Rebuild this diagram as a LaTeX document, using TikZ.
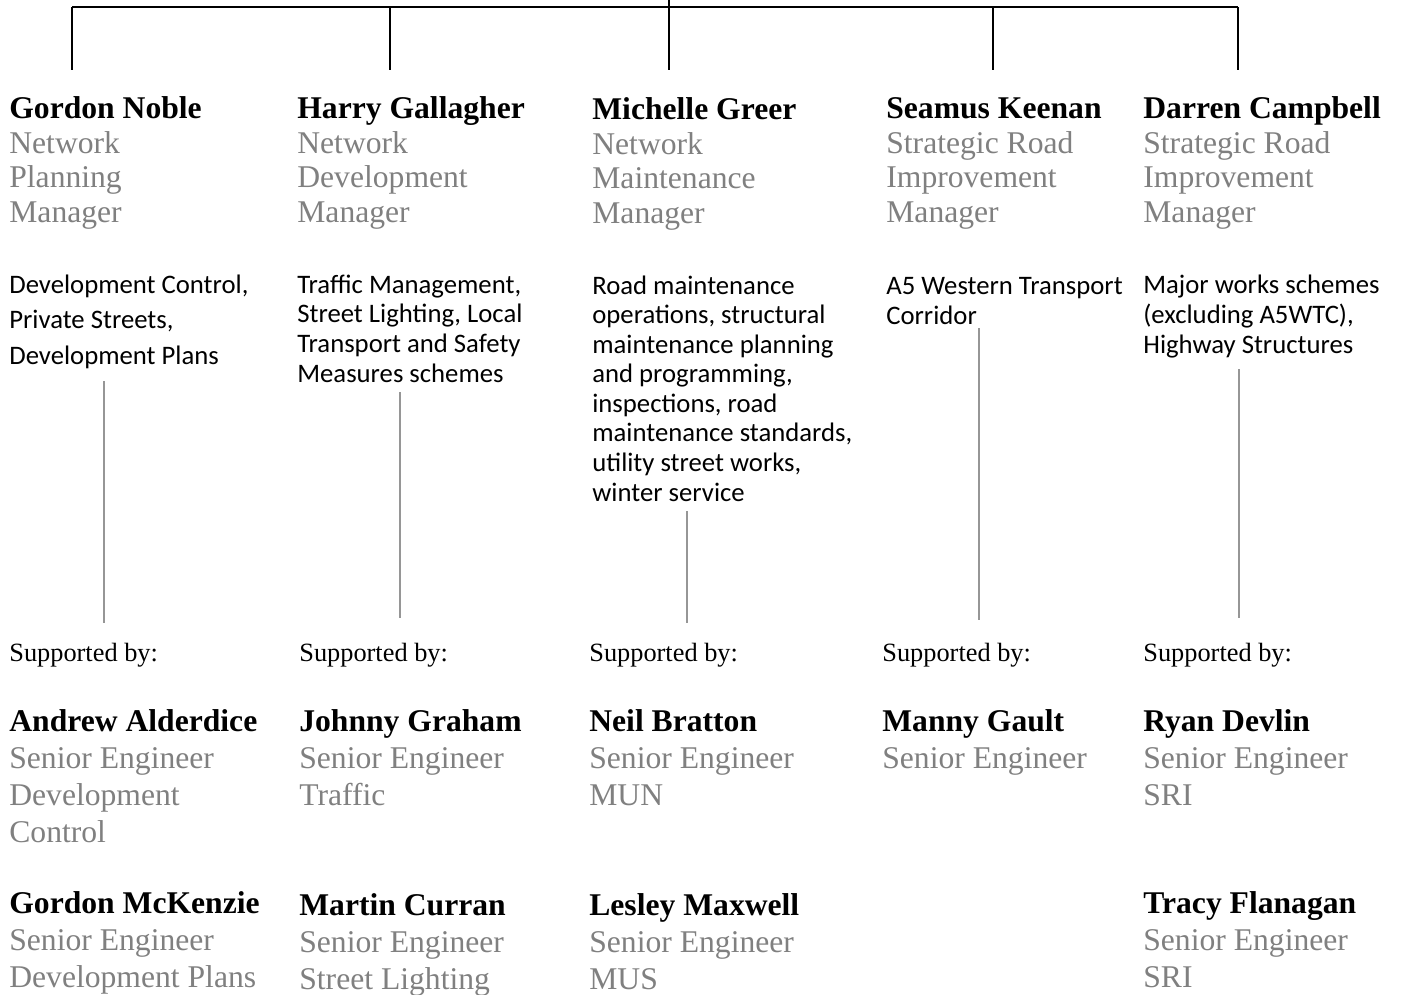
\documentclass[tikz,border=0pt]{standalone}
\usepackage{fontspec}
\setmainfont{Liberation Serif}
\newfontfamily\dutyfont{Carlito}
\usepackage{tikz}
\usetikzlibrary{positioning}
\definecolor{titlegrey}{RGB}{128,128,128}
\definecolor{stemgrey}{RGB}{150,150,150}
\tikzset{
  person/.style={anchor=base west, inner sep=0pt, align=left, text=titlegrey,
    font=\fontsize{18}{19.6}\selectfont},
  personb/.style={person, font=\fontsize{18}{21}\selectfont},
  duties/.style={anchor=base west, inner sep=0pt, align=left,
    font=\dutyfont\fontsize{15.2}{16.8}\selectfont},
  suplabel/.style={anchor=base west, inner sep=0pt, font=\fontsize{15}{18}\selectfont},
  branch/.style={line width=1.1pt, color=black},
  stem/.style={line width=0.8pt, color=stemgrey}
}
\newcommand{\who}[1]{{\color{black}\bfseries #1}}

\begin{document}
\begin{tikzpicture}[x=0.02cm, y=-0.02cm]
  \useasboundingbox (0,0) rectangle (1402,994);
  % managers (placed by the baseline of their last line)
  \node[person] (mgr1) at (9,222)    {\who{Gordon Noble}\\Network\\Planning\\Manager};
  \node[person] (mgr2) at (297,222)  {\who{Harry Gallagher}\\Network\\Development\\Manager};
  \node[person] (mgr3) at (592,223)  {\who{Michelle Greer}\\Network\\Maintenance\\Manager};
  \node[person] (mgr4) at (886,222)  {\who{Seamus Keenan}\\Strategic Road\\Improvement\\Manager};
  \node[person] (mgr5) at (1143,222) {\who{Darren Campbell}\\Strategic Road\\Improvement\\Manager};
  % duties
  \node[duties, font=\dutyfont\fontsize{15.2}{20}\selectfont] (duty1) at (9,364)
    {Development Control,\\Private Streets,\\Development Plans};
  \node[duties] (duty2) at (297,382)
    {Traffic Management,\\Street Lighting, Local\\Transport and Safety\\Measures schemes};
  \node[duties] (duty3) at (592,501)
    {Road maintenance\\operations, structural\\maintenance planning\\and programming,\\inspections, road\\maintenance standards,\\utility street works,\\winter service};
  \node[duties] (duty4) at (886,324) {A5 Western Transport\\Corridor};
  \node[duties] (duty5) at (1143,353)
    {Major works schemes\\(excluding A5WTC),\\Highway Structures};
  % supported by
  \node[suplabel] (sup1) at (9,661)    {Supported by:};
  \node[suplabel] (sup2) at (299,661)  {Supported by:};
  \node[suplabel] (sup3) at (589,661)  {Supported by:};
  \node[suplabel] (sup4) at (882,661)  {Supported by:};
  \node[suplabel] (sup5) at (1143,661) {Supported by:};
  % senior engineers
  \node[personb] (eng1a) at (9,842)    {\who{Andrew Alderdice}\\Senior Engineer\\Development\\Control};
  \node[personb] (eng2a) at (299,805)  {\who{Johnny Graham}\\Senior Engineer\\Traffic};
  \node[personb] (eng3a) at (589,805)  {\who{Neil Bratton}\\Senior Engineer\\MUN};
  \node[personb] (eng4a) at (882,768)  {\who{Manny Gault}\\Senior Engineer};
  \node[personb] (eng5a) at (1143,805) {\who{Ryan Devlin}\\Senior Engineer\\SRI};
  \node[personb] (eng1b) at (9,987)    {\who{Gordon McKenzie}\\Senior Engineer\\Development Plans};
  \node[personb] (eng2b) at (299,989)  {\who{Martin Curran}\\Senior Engineer\\Street Lighting};
  \node[personb] (eng3b) at (589,989)  {\who{Lesley Maxwell}\\Senior Engineer\\MUS};
  \node[personb] (eng5b) at (1143,987) {\who{Tracy Flanagan}\\Senior Engineer\\SRI};
  % tree above the managers
  \coordinate (root) at (669,0);
  \coordinate (bar) at (669,7);
  \foreach \i/\x in {1/72, 2/390, 3/669, 4/993, 5/1238}
    \coordinate (drop\i) at (\x,70);
  \draw[branch] (root) -- (bar);
  \draw[branch] (drop1 |- bar) -- (drop5 |- bar);
  \foreach \i in {1,...,5}
    \draw[branch] (drop\i |- bar) -- (drop\i);
  % stems down to the support lists
  \foreach \i/\x/\a/\b in {1/104/381/623, 2/400/392/618, 3/687/511/623, 4/979/328/620, 5/1239/369/618} {
    \coordinate (top\i) at (\x,\a);
    \coordinate (bot\i) at (\x,\b);
    \draw[stem] (top\i) -- (bot\i);
  }
\end{tikzpicture}
\end{document}
